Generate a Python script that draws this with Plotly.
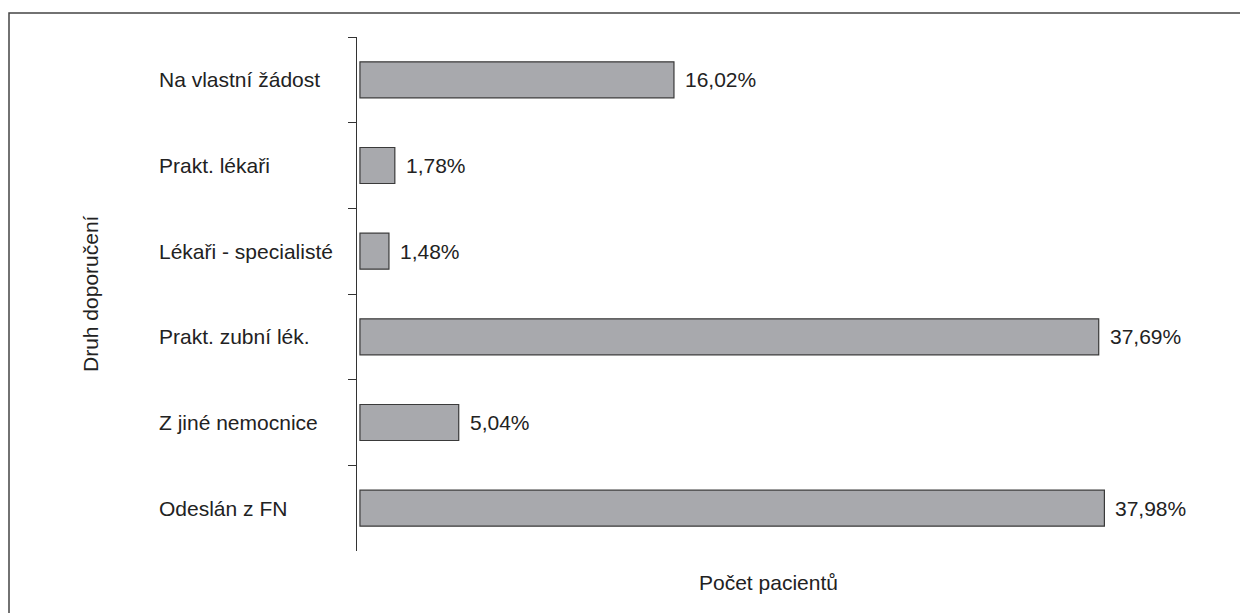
import plotly.graph_objects as go

categories = ["Na vlastní žádost", "Prakt. lékaři", "Lékaři - specialisté",
              "Prakt. zubní lék.", "Z jiné nemocnice", "Odeslán z FN"]
values = [16.02, 1.78, 1.48, 37.69, 5.04, 37.98]
value_labels = ["16,02%", "1,78%", "1,48%", "37,69%", "5,04%", "37,98%"]
x_title = "Počet pacientů"
y_title = "Druh doporučení"

OFF = 8  # page body margin
W, H = 1248 - OFF, 613 - OFF
# plot area in reference pixel coordinates
PX0, PX1, PY0, PY1 = 357, 1144, 37, 551
L, R, T, B = PX0 - OFF, W - (PX1 - OFF), PY0 - OFF, H - (PY1 - OFF)
pw = W - L - R
ph = H - T - B

def px_x(px):
    return (px - OFF - L) / pw

def px_y(py):
    return (H - B - (py - OFF)) / ph

FONT = "Liberation Sans, Arial, sans-serif"
TXT = "#222222"
FS = 21

fig = go.Figure()
fig.add_trace(go.Bar(
    y=categories, x=values, orientation="h", width=0.42,
    marker=dict(color="#a8a9ad", line=dict(color="#3a3a3a", width=1.2)),
    hoverinfo="skip",
))

annotations = []
for c in categories:
    annotations.append(dict(x=px_x(157), xref="paper", y=c, yref="y", text=c,
                            xanchor="left", yanchor="middle", showarrow=False,
                            font=dict(family=FONT, size=FS, color=TXT)))
for c, v, t in zip(categories, values, value_labels):
    annotations.append(dict(x=v, xref="x", y=c, yref="y", text=t, xanchor="left",
                            yanchor="middle", showarrow=False, xshift=9,
                            font=dict(family=FONT, size=FS, color=TXT)))
annotations.append(dict(x=px_x(90), xref="paper", y=0.5, yref="paper", text=y_title,
                        textangle=-90, showarrow=False, xanchor="center", yanchor="middle",
                        font=dict(family=FONT, size=FS, color=TXT)))
annotations.append(dict(x=px_x(768), xref="paper", y=px_y(582), yref="paper", text=x_title,
                        showarrow=False, xanchor="center", yanchor="middle",
                        font=dict(family=FONT, size=FS, color=TXT)))

fig.update_layout(
    width=W, height=H,
    margin=dict(l=L, r=R, t=T, b=B, pad=0),
    paper_bgcolor="white", plot_bgcolor="white",
    showlegend=False,
    xaxis=dict(range=[-0.15, 40], showgrid=False, zeroline=False, showline=False,
               showticklabels=False, ticks=""),
    yaxis=dict(type="category", categoryorder="array", categoryarray=categories,
               autorange="reversed", showgrid=False, zeroline=False,
               showline=True, linecolor="#333333", linewidth=1.2,
               ticks="outside", ticklen=8, tickcolor="#333333", tickwidth=1.2,
               tickson="boundaries", showticklabels=False),
    annotations=annotations,
    shapes=[dict(type="rect", xref="paper", yref="paper",
                 x0=px_x(OFF + 1), x1=px_x(1300), y0=px_y(660), y1=px_y(13),
                 line=dict(color="#444444", width=1.5), fillcolor="rgba(0,0,0,0)")],
)

fig.write_html("out.html")
